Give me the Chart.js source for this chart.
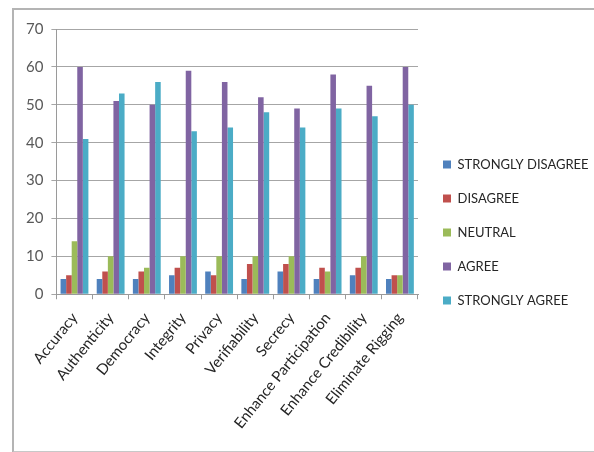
<!DOCTYPE html>
<html>
<head>
<meta charset="utf-8">
<script src="https://cdn.jsdelivr.net/npm/chart.js@4"></script>
<style>
  html, body { margin: 0; padding: 0; background: #fff; }
  #frame { position: absolute; left: 12px; top: 8px; width: 600px; height: 441px;
           border-left: 2px solid #b4b4b4; border-top: 2px solid #b4b4b4; border-bottom: 2px solid #c8c8c8; }
  #wrap { position: absolute; left: 0; top: 0; width: 594px; height: 452px; }
</style>
</head>
<body>
<div id="frame"></div>
<div id="wrap"><canvas id="c" width="594" height="452"></canvas></div>
<script>
const categories = ["Accuracy", "Authenticity", "Democracy", "Integrity", "Privacy",
  "Verifiability", "Secrecy", "Enhance Participation", "Enhance Credibility", "Eliminate Rigging"];
const seriesNames = ["STRONGLY DISAGREE", "DISAGREE", "NEUTRAL", "AGREE", "STRONGLY AGREE"];
const stronglyDisagree = [4, 4, 4, 5, 6, 4, 6, 4, 5, 4];
const disagree         = [5, 6, 6, 7, 5, 8, 8, 7, 7, 5];
const neutral          = [14, 10, 7, 10, 10, 10, 10, 6, 10, 5];
const agree            = [60, 51, 50, 59, 56, 52, 49, 58, 55, 60];
const stronglyAgree    = [41, 53, 56, 43, 44, 48, 44, 49, 47, 50];
const yTicks = [0, 10, 20, 30, 40, 50, 60, 70];
const colors = ["#4F81BD", "#C0504D", "#9BBB59", "#8064A2", "#4BACC6"];

const values = [stronglyDisagree, disagree, neutral, agree, stronglyAgree];
const datasets = seriesNames.map((n, i) => ({
  label: n,
  data: values[i],
  backgroundColor: colors[i],
  borderWidth: 0,
  categoryPercentage: 0.77,
  barPercentage: 1.0
}));

const LEGEND_WIDTH = 176;
const legendPlacePlugin = {
  id: "legendPlace",
  beforeLayout(chart) {
    const lg = chart.legend;
    if (lg && !lg._fixedWidth) {
      const orig = lg.fit;
      lg.fit = function () { orig.call(this); this.width = LEGEND_WIDTH; };
      lg._fixedWidth = true;
    }
  },
  afterLayout(chart) {
    const lg = chart.legend;
    if (lg) { lg.left += 4; lg.right += 4; lg.top -= 3; lg.bottom -= 3; }
  }
};

new Chart(document.getElementById("c"), {
  type: "bar",
  data: { labels: categories, datasets },
  plugins: [legendPlacePlugin],
  options: {
    responsive: false,
    animation: false,
    devicePixelRatio: 1,
    layout: { padding: { left: 18, top: 29, right: 0, bottom: 10 } },
    plugins: {
      title: { display: false },
      tooltip: { enabled: false },
      legend: {
        position: "right",
        align: "center",
        labels: {
          boxWidth: 8, boxHeight: 8, padding: 21,
          color: "#262626",
          font: { family: "Lato", size: 13 }
        }
      }
    },
    scales: {
      x: {
        offset: true,
        grid: { offset: true, drawOnChartArea: false, drawTicks: true, tickLength: 5, color: "#9a9a9a" },
        border: { color: "#9a9a9a", width: 1 },
        ticks: { maxRotation: 51, minRotation: 51, color: "#262626", font: { family: "Lato", size: 15 }, padding: 10 }
      },
      y: {
        min: 0, max: 70,
        afterBuildTicks: (ax) => { ax.ticks = yTicks.map(v => ({ value: v })); },
        grid: { color: "#a6a6a6", tickLength: 5, drawTicks: true },
        border: { color: "#9a9a9a", width: 1 },
        ticks: { color: "#595959", font: { family: "Lato", size: 15 }, padding: 8 }
      }
    }
  }
});
</script>
</body>
</html>
